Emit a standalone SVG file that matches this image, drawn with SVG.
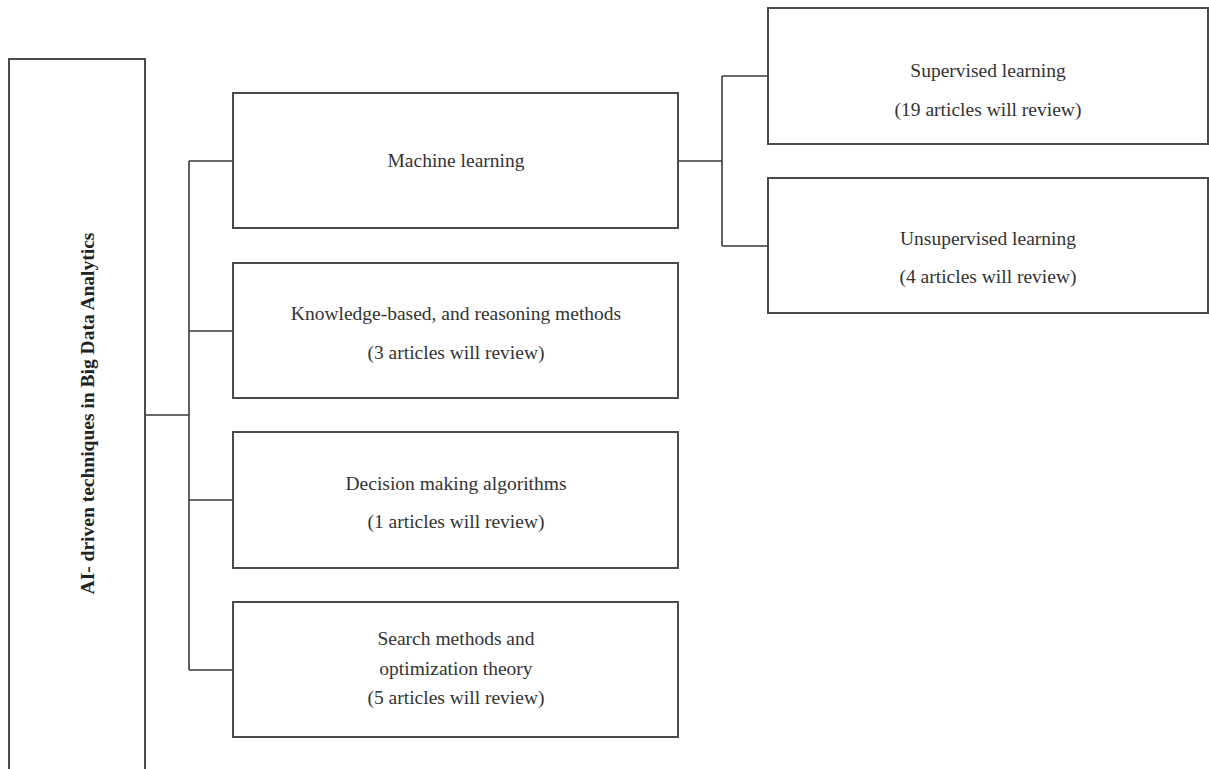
<svg xmlns="http://www.w3.org/2000/svg" width="1209" height="769" viewBox="0 0 1209 769">
<style>
.box{fill:#fff;stroke:#4a4a4a;stroke-width:2}
.conn{fill:none;stroke:#3a3a3a;stroke-width:1.6}
.t{font-family:"Liberation Serif","Times New Roman",serif;font-size:19.5px;fill:#333;text-anchor:middle}
.tb{font-family:"Liberation Serif","Times New Roman",serif;font-size:19.5px;fill:#222;font-weight:bold;text-anchor:middle}
</style>
<rect width="1209" height="769" fill="#fff"/>
<g id="connectors">
<path class="conn" d="M145 415H189M189 161V670M189 161H233M189 331H233M189 500H233M189 670H233"/>
<path class="conn" d="M678 161H722M722 76V246M722 76H768M722 246H768"/>
</g>
<g id="root">
<rect class="box" x="9" y="59" width="136" height="730"/>
<text class="tb" transform="translate(94,413.5) rotate(-90)">AI- driven techniques in Big Data Analytics</text>
</g>
<g id="ml">
<rect class="box" x="233" y="93" width="445" height="135"/>
<text class="t" x="456" y="167">Machine learning</text>
</g>
<g id="kb">
<rect class="box" x="233" y="263" width="445" height="135"/>
<text class="t" x="456" y="320">Knowledge-based, and reasoning methods</text>
<text class="t" x="456" y="359">(3 articles will review)</text>
</g>
<g id="dm">
<rect class="box" x="233" y="432" width="445" height="136"/>
<text class="t" x="456" y="490">Decision making algorithms</text>
<text class="t" x="456" y="528">(1 articles will review)</text>
</g>
<g id="search">
<rect class="box" x="233" y="602" width="445" height="135"/>
<text class="t" x="456" y="645">Search methods and</text>
<text class="t" x="456" y="675">optimization theory</text>
<text class="t" x="456" y="704">(5 articles will review)</text>
</g>
<g id="supervised">
<rect class="box" x="768" y="8" width="440" height="136"/>
<text class="t" x="988" y="77">Supervised learning</text>
<text class="t" x="988" y="116">(19 articles will review)</text>
</g>
<g id="unsupervised">
<rect class="box" x="768" y="178" width="440" height="135"/>
<text class="t" x="988" y="245">Unsupervised learning</text>
<text class="t" x="988" y="283">(4 articles will review)</text>
</g>
</svg>
